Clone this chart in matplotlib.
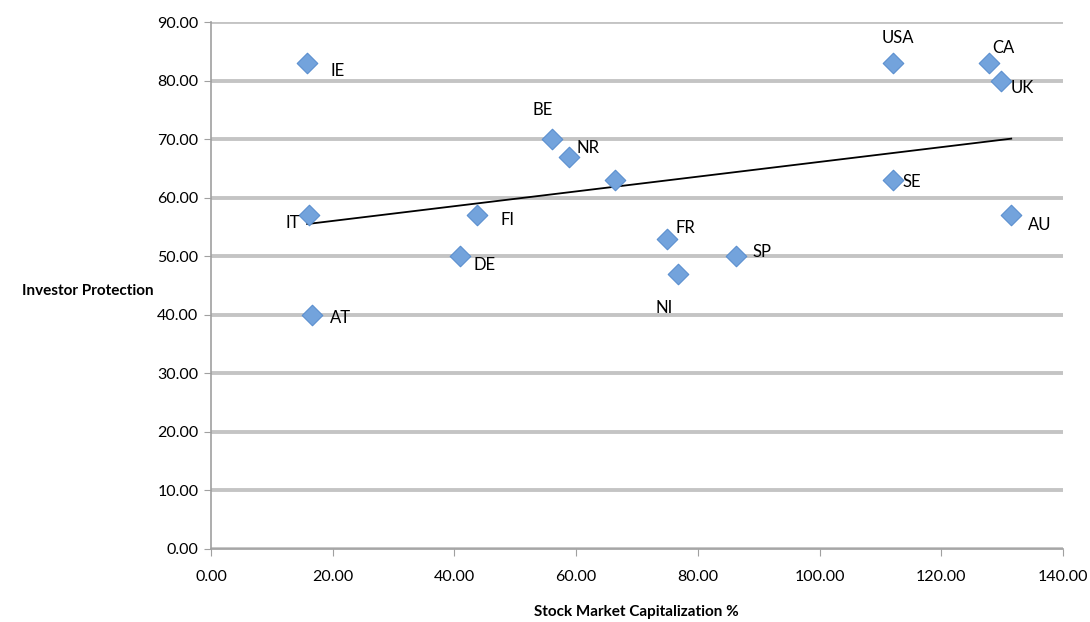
import numpy as np
import matplotlib.pyplot as plt

plt.rcParams['font.family'] = ['Lato', 'DejaVu Sans']

# values
countries = ['IE', 'IT', 'AT', 'DE', 'FI', 'BE', 'NR', '', 'FR', 'NI', 'SP',
             'USA', 'SE', 'CA', 'UK', 'AU']
market_cap = [15.8, 16.1, 16.6, 40.9, 43.7, 56.0, 58.8, 66.4, 74.9, 76.7, 86.3,
              112.1, 112.1, 127.8, 129.8, 131.5]
protection = [83.0, 57.0, 40.0, 50.0, 57.0, 70.0, 67.0, 63.0, 53.0, 47.0, 50.0,
              83.0, 63.0, 83.0, 80.0, 57.0]

# label offsets in pixels (x, y)
label_off = {'IE': (30, -8), 'IT': (-16, -8), 'AT': (28, -3), 'DE': (25, -9),
             'FI': (31, -5), 'BE': (-9, 29), 'NR': (19, 9), 'FR': (19, 11),
             'NI': (-14, -34), 'SP': (26, 4), 'USA': (5, 25), 'SE': (19, -2),
             'CA': (15, 15), 'UK': (21, -7), 'AU': (28, -10)}

fig = plt.figure(figsize=(10.9, 6.22), dpi=100)
ax = fig.add_axes([0.1936, 0.1174, 0.7816, 0.8472])

x = np.array(market_cap)
y = np.array(protection)

# linear trendline
k, b = np.polyfit(x, y, 1)
xs = np.array([x.min(), x.max()])
ax.plot(xs, k * xs + b, color='black', lw=1.3, zorder=3)

ax.scatter(x, y, marker='D', s=110, color='#73a3dc', edgecolors='#5b8fcf',
           linewidths=0.8, zorder=4)

for c, xi, yi in zip(countries, x, y):
    if not c:
        continue
    ax.annotate(c, (xi, yi), xytext=label_off[c], textcoords='offset pixels',
                ha='center', va='center', fontsize=12, zorder=5)

ax.set_xlim(0, 140)
ax.set_ylim(0, 90)
ax.set_xticks(np.arange(0, 141, 20))
ax.set_yticks(np.arange(0, 91, 10))
ax.set_xticklabels(['%.2f' % v for v in np.arange(0, 141, 20)])
ax.set_yticklabels(['%.2f' % v for v in np.arange(0, 91, 10)])
ax.tick_params(axis='both', labelsize=11.5, color='#a0a0a0', length=5)
ax.tick_params(axis='x', pad=10)
ax.tick_params(axis='y', pad=4)

ax.grid(axis='y', color='#c4c4c4', lw=2.8)
ax.set_axisbelow(True)
for s in ['top', 'right']:
    ax.spines[s].set_visible(False)
for s in ['left', 'bottom']:
    ax.spines[s].set_color('#a0a0a0')
    ax.spines[s].set_linewidth(1.2)

fig.text(0.081, 0.532, 'Investor Protection', ha='center', va='center',
         fontsize=11, fontweight='bold')
fig.text(0.584, 0.016, 'Stock Market Capitalization %', ha='center',
         va='center', fontsize=11, fontweight='bold')

plt.savefig('out.png', dpi=100)
plt.close(fig)
